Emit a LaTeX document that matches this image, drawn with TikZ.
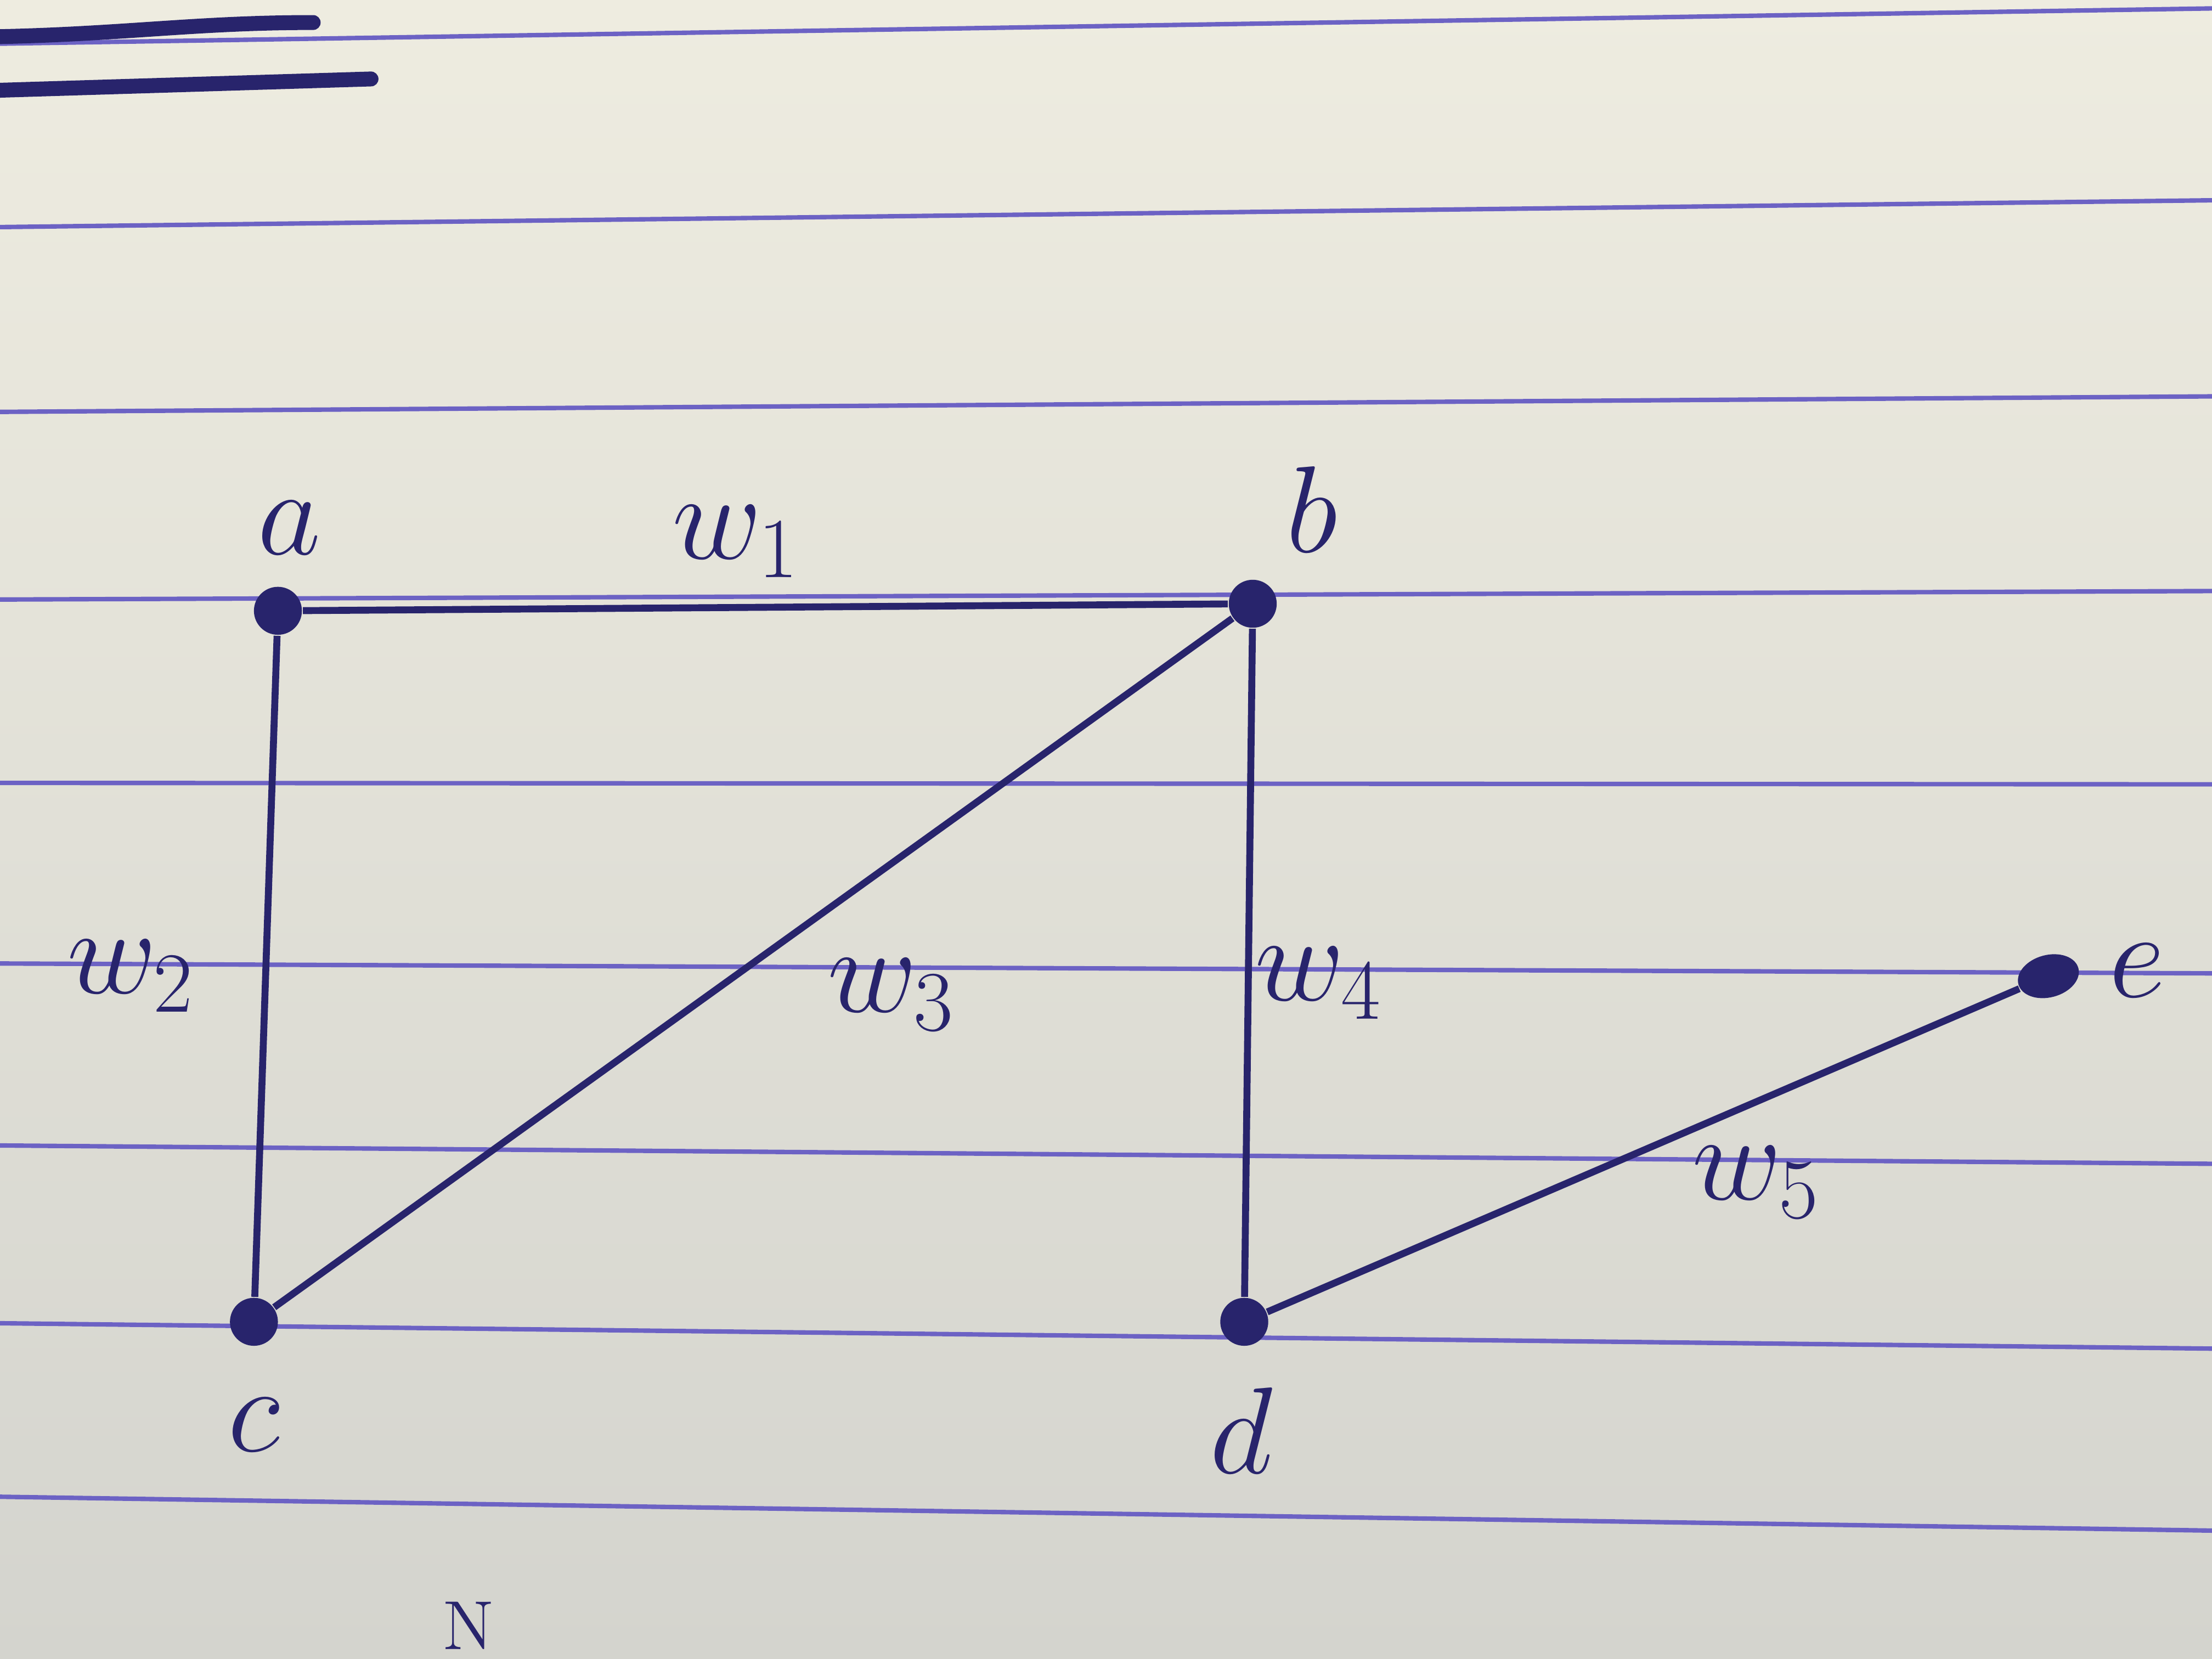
\documentclass[tikz,border=0pt]{standalone}
\usepackage{tikz}
\usetikzlibrary{calc,shapes.geometric}

\definecolor{ink}{RGB}{40,36,108}
\definecolor{rulecol}{RGB}{108,98,196}
\definecolor{paper}{RGB}{238,236,224}
\definecolor{papershade}{RGB}{212,212,206}

\tikzset{
	vertex/.style={circle,fill=ink,inner sep=0pt,minimum size=0.34cm},
	edge/.style={draw=ink,line width=1.4pt},
	vname/.style={text=ink,inner sep=0pt,font=\fontsize{24}{28}\selectfont},
	weight/.style={text=ink,inner sep=0pt,font=\fontsize{26}{30}\selectfont}
}

\begin{document}
\begin{tikzpicture}
		\useasboundingbox (0,0) rectangle (15.68,11.76);
		\shade[top color=paper,bottom color=papershade] (0,0) rectangle (15.68,11.76);
		% ruled lines of the notebook page
		\foreach \yl/\yr in {11.45/11.70,10.15/10.34,8.84/8.95,7.51/7.57,6.21/6.20,4.93/4.86,3.64/3.51,2.38/2.20,1.15/0.91}
			\draw[rulecol,line width=0.9pt](0,\yl) -- (15.68,\yr);
		% the two strokes at the top
		\draw[ink,line width=3pt,line cap=round](0,11.50) .. controls (0.9,11.52) and (1.4,11.60) .. (2.22,11.60);
		\draw[ink,line width=3pt,line cap=round](0,11.12) -- (2.63,11.20);
		% vertices
		\node[vertex](a) at (1.97,7.43) {};
		\node[vertex](b) at (8.88,7.48) {};
		\node[vertex](c) at (1.80,2.39) {};
		\node[vertex](d) at (8.82,2.39) {};
		\node[vertex,ellipse,minimum width=0.44cm,minimum height=0.3cm,rotate=15](e) at (14.52,4.84) {};
		\node[vname](la) at (2.05,8.02) {$a$};
		\node[vname](lb) at (9.30,8.15) {$b$};
		\node[vname](lc) at (1.80,1.66) {$c$};
		\node[vname](ld) at (8.80,1.62) {$d$};
		\node[vname](le) at (15.15,4.88) {$e$};
		% edges
		\draw[edge](a) -- (b);
		\draw[edge](a) -- (c);
		\draw[edge](b) -- (c);
		\draw[edge](b) -- (d);
		\draw[edge](d) -- (e);
		% weights
		\node[weight](w1) at (5.22,7.92) {$w_1$};
		\node[weight](w2) at (0.93,4.84) {$w_2$};
		\node[weight](w3) at (6.32,4.71) {$w_3$};
		\node[weight](w4) at (9.35,4.79) {$w_4$};
		\node[weight](w5) at (12.45,3.38) {$w_5$};
		\node[text=ink,inner sep=0pt,anchor=south,font=\fontsize{14}{16}\selectfont](n) at (3.32,0.06) {N};
		\end{tikzpicture}
\end{document}
